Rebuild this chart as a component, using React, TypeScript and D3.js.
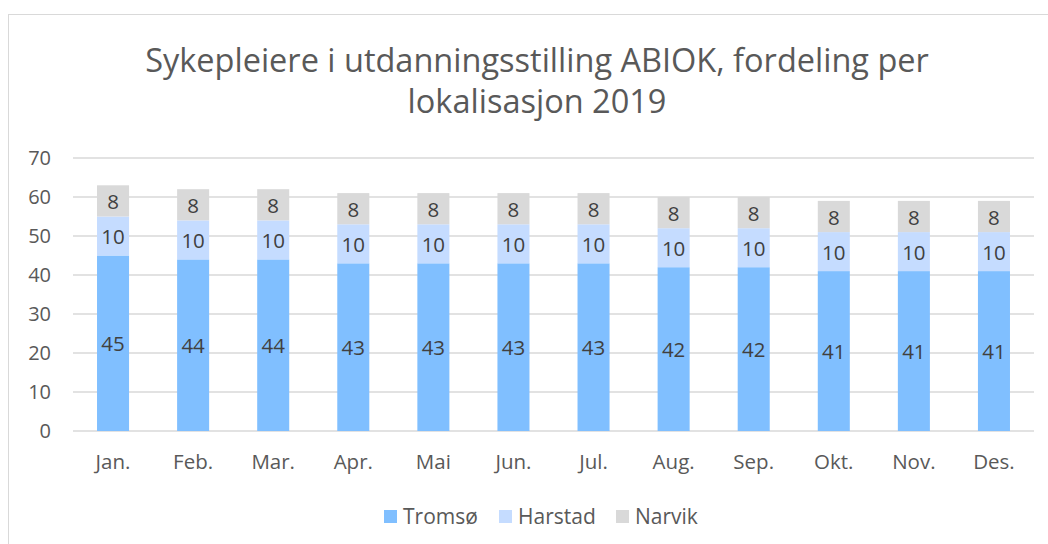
import React from "react";
import * as d3 from "d3";

const months = ["Jan.", "Feb.", "Mar.", "Apr.", "Mai", "Jun.", "Jul.", "Aug.", "Sep.", "Okt.", "Nov.", "Des."];
const tromso = [45, 44, 44, 43, 43, 43, 43, 42, 42, 41, 41, 41];
const harstad = [10, 10, 10, 10, 10, 10, 10, 10, 10, 10, 10, 10];
const narvik = [8, 8, 8, 8, 8, 8, 8, 8, 8, 8, 8, 8];
const seriesNames = ["Tromsø", "Harstad", "Narvik"];
const seriesColors = ["#80BFFF", "#C5DCFF", "#D9D9D9"];
const yTicks = [0, 10, 20, 30, 40, 50, 60, 70];

const W = 1048;
const H = 544;
const FONT = "'Open Sans', 'Noto Sans', sans-serif";

export default function App() {
  const x = d3.scaleBand<string>().domain(months).range([73, 1034]).paddingInner(0.6).paddingOuter(0.3);
  const y = d3.scaleLinear().domain([0, 70]).range([431, 158]);
  const rows = months.map((m, i) => ({ m, Tromsø: tromso[i], Harstad: harstad[i], Narvik: narvik[i] }));
  const stacked = d3.stack<any>().keys(seriesNames)(rows);

  const legendX = [384, 499, 616];

  return (
    <svg width={W} height={H} style={{ position: "absolute", left: 0, top: 0, background: "#fff" }} fontFamily={FONT}>
      <rect x={8.5} y={14.5} width={W} height={H} fill="#fff" stroke="#D9D9D9" strokeWidth={1} />
      <text x={537} y={72} textAnchor="middle" fontSize={32.5} fill="#595959">
        Sykepleiere i utdanningsstilling ABIOK, fordeling per
      </text>
      <text x={537} y={113} textAnchor="middle" fontSize={32.5} fill="#595959">
        lokalisasjon 2019
      </text>
      {yTicks.map((t) => (
        <g key={t}>
          <line x1={73} x2={1034} y1={y(t)} y2={y(t)} stroke="#D9D9D9" strokeWidth={1.5} />
          <text x={51} y={y(t)} dy="0.35em" textAnchor="end" fontSize={20} fill="#595959">
            {t}
          </text>
        </g>
      ))}
      {stacked.map((s, si) => (
        <g key={s.key} fill={seriesColors[si]}>
          {s.map((d, i) => (
            <rect key={i} x={x(months[i])} width={x.bandwidth()} y={y(d[1])} height={y(d[0]) - y(d[1])} />
          ))}
        </g>
      ))}
      {stacked.map((s, si) => (
        <g key={s.key + "l"}>
          {s.map((d, i) => (
            <text
              key={i}
              x={(x(months[i]) as number) + x.bandwidth() / 2}
              y={(y(d[0]) + y(d[1])) / 2 + 1}
              dy="0.35em"
              textAnchor="middle"
              fontSize={20.5}
              fill="#404040"
            >
              {d[1] - d[0]}
            </text>
          ))}
        </g>
      ))}
      {months.map((m) => (
        <text key={m} x={(x(m) as number) + x.bandwidth() / 2} y={462} dy="0.35em" textAnchor="middle" fontSize={20.5} fill="#595959">
          {m}
        </text>
      ))}
      {seriesNames.map((n, i) => (
        <g key={n}>
          <rect x={legendX[i]} y={510} width={13} height={13} fill={seriesColors[i]} />
          <text x={legendX[i] + 19} y={516.5} dy="0.35em" fontSize={21} fill="#595959">
            {n}
          </text>
        </g>
      ))}
    </svg>
  );
}
